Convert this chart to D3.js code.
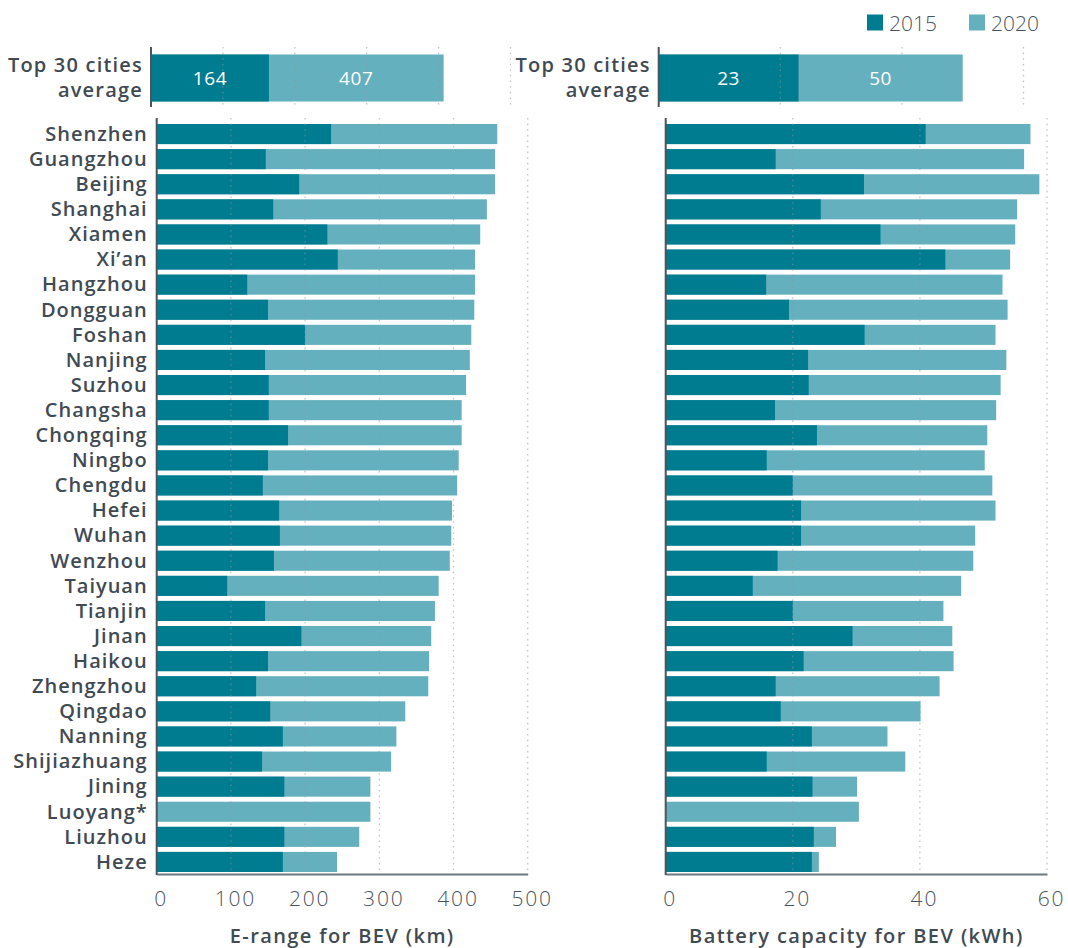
<!DOCTYPE html>
<html><head><meta charset="utf-8">
<script src="https://cdn.jsdelivr.net/npm/d3@7"></script>
<style>
html,body{margin:0;padding:0;background:#fff;}
svg{display:block;font-family:"Open Sans",sans-serif;}
</style></head>
<body>
<script>
const cities = ["Shenzhen","Guangzhou","Beijing","Shanghai","Xiamen","Xi’an","Hangzhou","Dongguan","Foshan","Nanjing","Suzhou","Changsha","Chongqing","Ningbo","Chengdu","Hefei","Wuhan","Wenzhou","Taiyuan","Tianjin","Jinan","Haikou","Zhengzhou","Qingdao","Nanning","Shijiazhuang","Jining","Luoyang*","Liuzhou","Heze"];
const erange2015 = [235,147,192,157,230,244,122,150,200,146,151,151,177,150,143,165,166,158,95,146,195,150,134,153,170,142,172,null,172,170];
const erange2020 = [459,456,456,445,436,429,429,428,424,422,417,411,411,407,405,398,397,395,380,375,370,367,366,335,323,316,288,288,273,243];
const battery2015 = [40.9,17.3,31.2,24.4,33.8,44.0,15.8,19.4,31.3,22.4,22.5,17.2,23.8,15.9,20.0,21.3,21.3,17.6,13.7,20.0,29.4,21.7,17.3,18.1,23.0,15.9,23.1,null,23.3,23.0];
const battery2020 = [57.4,56.4,58.8,55.3,55.0,54.2,53.0,53.8,51.9,53.6,52.7,52.0,50.6,50.2,51.4,51.9,48.7,48.4,46.5,43.7,45.1,45.3,43.1,40.1,34.9,37.7,30.1,30.4,26.8,24.1];
const avgLabel = ["Top 30 cities","average"];
const avgRange = [164, 407];
const avgBattery = [23, 50];
const years = ["2015","2020"];
const rangeTicks = [0,100,200,300,400,500];
const batteryTicks = [0,20,40,60];
const rangeTitle = "E-range for BEV (km)";
const batteryTitle = "Battery capacity for BEV (kWh)";

const C15 = "#007c91", C20 = "#65b0be", TXT = "#3f4a53";
const W = 1068, H = 948;
const svg = d3.select("body").append("svg").attr("width", W).attr("height", H);

const y = d3.scaleBand().domain(cities).range([121.5, 874.5]).paddingInner(0.2).paddingOuter(0.1);
const yTop = d3.scaleBand().domain(["avg"]).range([54.5, 101.5]);

const panels = [
  {x: d3.scaleLinear().domain([0,500]).range([156.7,527.7]),
   xt: d3.scaleLinear().domain([0,500]).range([151,510.5]),
   v15: erange2015, v20: erange2020, avg: avgRange, ticks: rangeTicks, title: rangeTitle, cityLabels: true},
  {x: d3.scaleLinear().domain([0,60]).range([665.7,1047]),
   xt: d3.scaleLinear().domain([0,60]).range([658.7,1023.5]),
   v15: battery2015, v20: battery2020, avg: avgBattery, ticks: batteryTicks, title: batteryTitle, cityLabels: false}
];

panels.forEach(p => {
  const g = svg.append("g");
  const x = p.x, xt = p.xt;
  // top average panel
  const top = g.append("g");
  top.append("rect").attr("x", xt(0)).attr("y", yTop("avg")).attr("width", xt(p.avg[1]) - xt(0)).attr("height", yTop.bandwidth()).attr("fill", C20);
  top.append("rect").attr("x", xt(0)).attr("y", yTop("avg")).attr("width", xt(p.avg[0]) - xt(0)).attr("height", yTop.bandwidth()).attr("fill", C15);
  top.selectAll("line.grid").data(p.ticks.slice(1)).join("line")
    .attr("x1", d => xt(d)).attr("x2", d => xt(d)).attr("y1", 47).attr("y2", 107)
    .attr("stroke", "#8f989e").attr("stroke-opacity", 0.55).attr("stroke-width", 1.3).attr("stroke-dasharray", "1.6,4");
  top.append("line").attr("x1", xt(0)).attr("x2", xt(0)).attr("y1", 47).attr("y2", 107).attr("stroke", "#4b555c").attr("stroke-width", 2);
  const cy = yTop("avg") + yTop.bandwidth()/2;
  top.append("text").attr("x", (xt(0)+xt(p.avg[0]))/2).attr("y", cy).attr("dy", "0.36em").attr("text-anchor","middle")
    .attr("fill","#fff").attr("font-size", 19).attr("font-weight", 500).attr("letter-spacing", 0.6).text(p.avg[0]);
  top.append("text").attr("x", (xt(p.avg[0])+xt(p.avg[1]))/2).attr("y", cy).attr("dy", "0.36em").attr("text-anchor","middle")
    .attr("fill","#fff").attr("font-size", 19).attr("font-weight", 500).attr("letter-spacing", 0.6).text(p.avg[1]);
  top.selectAll("text.lab").data(avgLabel).join("text").attr("class","lab")
    .attr("x", xt(0) - 8).attr("y", (d,i) => 72 + i*25).attr("text-anchor","end")
    .attr("fill", TXT).attr("font-size", 20).attr("font-weight", 600).attr("letter-spacing", 1.2).text(d => d);

  // city bars
  const rows = g.append("g").selectAll("g").data(cities).join("g");
  rows.append("rect").attr("x", x(0)).attr("y", d => y(d)).attr("height", y.bandwidth())
    .attr("width", (d,i) => x(p.v20[i]) - x(0)).attr("fill", C20);
  rows.filter((d,i) => p.v15[i] != null).append("rect").attr("x", x(0)).attr("y", d => y(d)).attr("height", y.bandwidth())
    .attr("width", d => x(p.v15[cities.indexOf(d)]) - x(0)).attr("fill", C15);
  // gridlines
  g.append("g").selectAll("line").data(p.ticks.slice(1)).join("line")
    .attr("x1", d => x(d)).attr("x2", d => x(d)).attr("y1", 118).attr("y2", 873)
    .attr("stroke", "#8f989e").attr("stroke-opacity", 0.55).attr("stroke-width", 1.3).attr("stroke-dasharray", "1.6,4");
  // axes
  const ax = d3.axisBottom(x).tickValues(p.ticks).tickSize(0).tickPadding(0);
  const axg = g.append("g").attr("transform", "translate(0,874)").call(ax);
  axg.select(".domain").attr("stroke", "#6f787e").attr("stroke-width", 2);
  axg.selectAll(".tick text").attr("y", 32).attr("dy", 0).attr("dx", 4).attr("font-size", 21).attr("font-weight", 300)
    .attr("letter-spacing", 1.8).attr("fill", "#4a555e").attr("font-family", '"Open Sans",sans-serif');
  g.append("line").attr("x1", x(0)).attr("x2", x(0)).attr("y1", 118).attr("y2", 875).attr("stroke", "#4b555c").attr("stroke-width", 2);
  g.append("text").attr("x", (x.range()[0]+x.range()[1])/2).attr("y", 943).attr("text-anchor","middle")
    .attr("fill", TXT).attr("font-size", 20).attr("font-weight", 600).attr("letter-spacing", 1.4).text(p.title);
  if (p.cityLabels) {
    g.append("g").selectAll("text").data(cities).join("text")
      .attr("x", x(0) - 9).attr("y", d => y(d) + y.bandwidth()/2).attr("dy", "0.34em")
      .attr("text-anchor","end").attr("fill", TXT).attr("font-size", 20).attr("font-weight", 600).attr("letter-spacing", 1).text(d => d);
  }
});

// legend
const lg = svg.append("g");
const lx = [867, 969], lc = [C15, C20];
years.forEach((yr, i) => {
  lg.append("rect").attr("x", lx[i]).attr("y", 14.5).attr("width", 16).attr("height", 16).attr("fill", lc[i]);
  lg.append("text").attr("x", lx[i] + 22).attr("y", 30.5).attr("fill", "#4a555e").attr("font-size", 21).attr("font-weight", 300).text(yr);
});
</script>
</body></html>
